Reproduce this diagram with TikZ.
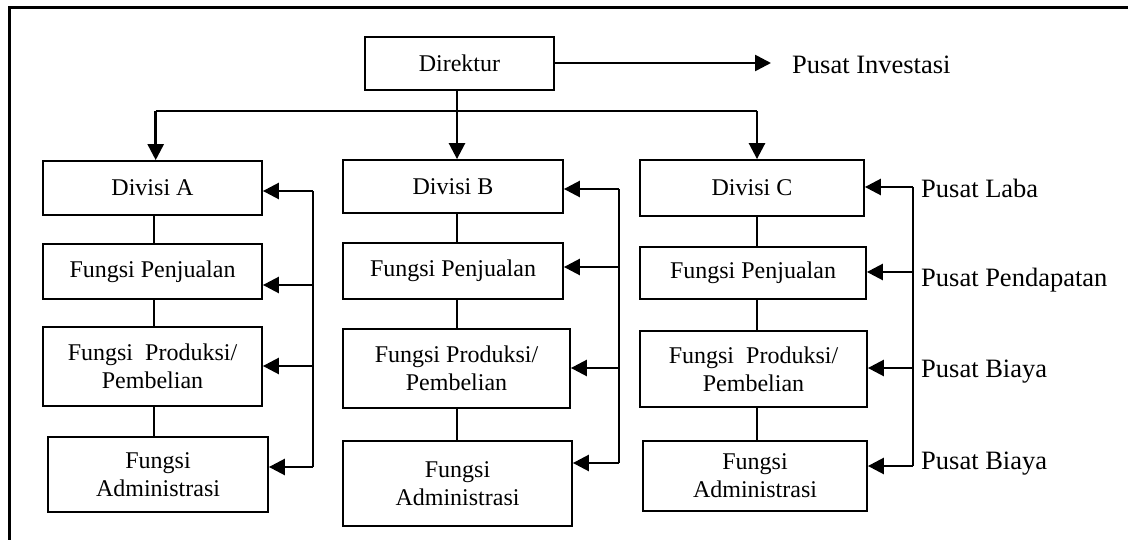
\documentclass[tikz,border=0pt]{standalone}
\usepackage{fontspec}
\setmainfont{Liberation Serif}
\usetikzlibrary{arrows.meta}
\begin{document}
\begin{tikzpicture}[x=1pt,y=-1pt,
  box/.style={draw, line width=1.8pt, inner sep=0pt, align=center,
    font=\fontsize{24}{28}\selectfont},
  lbl/.style={anchor=west, inner sep=0pt, font=\fontsize{26.5}{30}\selectfont},
  arr/.style={line width=2.6pt, -{Triangle[length=16pt,width=16pt]}},
  bus/.style={line width=2.6pt},
  link/.style={line width=1.6pt},
  frame/.style={line width=2.4pt}]
\useasboundingbox (0,0) rectangle (1128,540);
% frame
\draw[frame] (9.3,540) -- (9.3,7.5) -- (1128,7.5);
% boxes
\node[box, minimum width=189pt, minimum height=53pt] (dir) at (459.5,63.5) {Direktur};
\node[box, minimum width=219pt, minimum height=54pt] (divA) at (152.5,188) {Divisi A};
\node[box, minimum width=219pt, minimum height=55pt] (fpA) at (152.5,271.5) {Fungsi Penjualan};
\node[box, minimum width=219pt, minimum height=79pt] (fprA) at (152.5,366.5) {Fungsi\ \ Produksi/\\Pembelian};
\node[box, minimum width=220pt, minimum height=75pt] (fadA) at (158,474.5) {Fungsi\\Administrasi};
\node[box, minimum width=220pt, minimum height=53pt] (divB) at (453,186.5) {Divisi B};
\node[box, minimum width=220pt, minimum height=56pt] (fpB) at (453,271) {Fungsi Penjualan};
\node[box, minimum width=227pt, minimum height=79pt] (fprB) at (456.5,368.5) {Fungsi Produksi/\\Pembelian};
\node[box, minimum width=229pt, minimum height=85pt] (fadB) at (457.5,483.5) {Fungsi\\Administrasi};
\node[box, minimum width=224pt, minimum height=56pt] (divC) at (752,188) {Divisi C};
\node[box, minimum width=226pt, minimum height=52pt] (fpC) at (753,273) {Fungsi Penjualan};
\node[box, minimum width=227pt, minimum height=76pt] (fprC) at (753.5,369) {Fungsi\ \ Produksi/\\Pembelian};
\node[box, minimum width=224pt, minimum height=70pt] (fadC) at (755,476) {Fungsi\\Administrasi};
% labels
\node[lbl] (pinv) at (792,65) {Pusat Investasi};
\node[lbl] (plaba) at (921,188) {Pusat Laba};
\node[lbl] (ppend) at (921,280) {Pusat Pendapatan};
\node[lbl] (pbia1) at (921,372) {Pusat Biaya};
\node[lbl] (pbia2) at (921,464) {Pusat Biaya};
% top connectors
\coordinate (dirOut) at (457,90);
\coordinate (brL) at (155.7,111);
\coordinate (brR) at (757,111);
\draw[arr] (dir.east |- 0,63) -- (771,63) coordinate (invTip);
\draw[bus] (brL) -- (brR);
\draw[arr] (dirOut) -- (dirOut |- divB.north);
\draw[arr] (brL) -- (brL |- divA.north);
\draw[arr] (brR) -- (brR |- divC.north);
% column links
\draw[link] (154,0 |- divA.south) -- (154,0 |- fpA.north);
\draw[link] (154,0 |- fpA.south) -- (154,0 |- fprA.north);
\draw[link] (154,0 |- fprA.south) -- (154,0 |- fadA.north);
\draw[link] (457,0 |- divB.south) -- (457,0 |- fpB.north);
\draw[link] (457,0 |- fpB.south) -- (457,0 |- fprB.north);
\draw[link] (457,0 |- fprB.south) -- (457,0 |- fadB.north);
\draw[link] (757,0 |- divC.south) -- (757,0 |- fpC.north);
\draw[link] (757,0 |- fpC.south) -- (757,0 |- fprC.north);
\draw[link] (757,0 |- fprC.south) -- (757,0 |- fadC.north);
% bus A
\coordinate (a1) at (313,191);
\coordinate (a2) at (313,285);
\coordinate (a3) at (313,366);
\coordinate (a4) at (313,467);
\draw[bus] (a1) -- (a4);
\draw[arr] (a1) -- (a1 -| divA.east);
\draw[arr] (a2) -- (a2 -| fpA.east);
\draw[arr] (a3) -- (a3 -| fprA.east);
\draw[arr] (a4) -- (a4 -| fadA.east);
% bus B
\coordinate (b1) at (619,189);
\coordinate (b2) at (619,267);
\coordinate (b3) at (619,368);
\coordinate (b4) at (619,463);
\draw[bus] (b1) -- (b4);
\draw[arr] (b1) -- (b1 -| divB.east);
\draw[arr] (b2) -- (b2 -| fpB.east);
\draw[arr] (b3) -- (b3 -| fprB.east);
\draw[arr] (b4) -- (b4 -| fadB.east);
% bus C
\coordinate (c1) at (913,187);
\coordinate (c2) at (913,272);
\coordinate (c3) at (913,368);
\coordinate (c4) at (913,466);
\draw[bus] (c1) -- (c4);
\draw[arr] (c1) -- (c1 -| divC.east);
\draw[arr] (c2) -- (c2 -| fpC.east);
\draw[arr] (c3) -- (c3 -| fprC.east);
\draw[arr] (c4) -- (c4 -| fadC.east);
\end{tikzpicture}
\end{document}
